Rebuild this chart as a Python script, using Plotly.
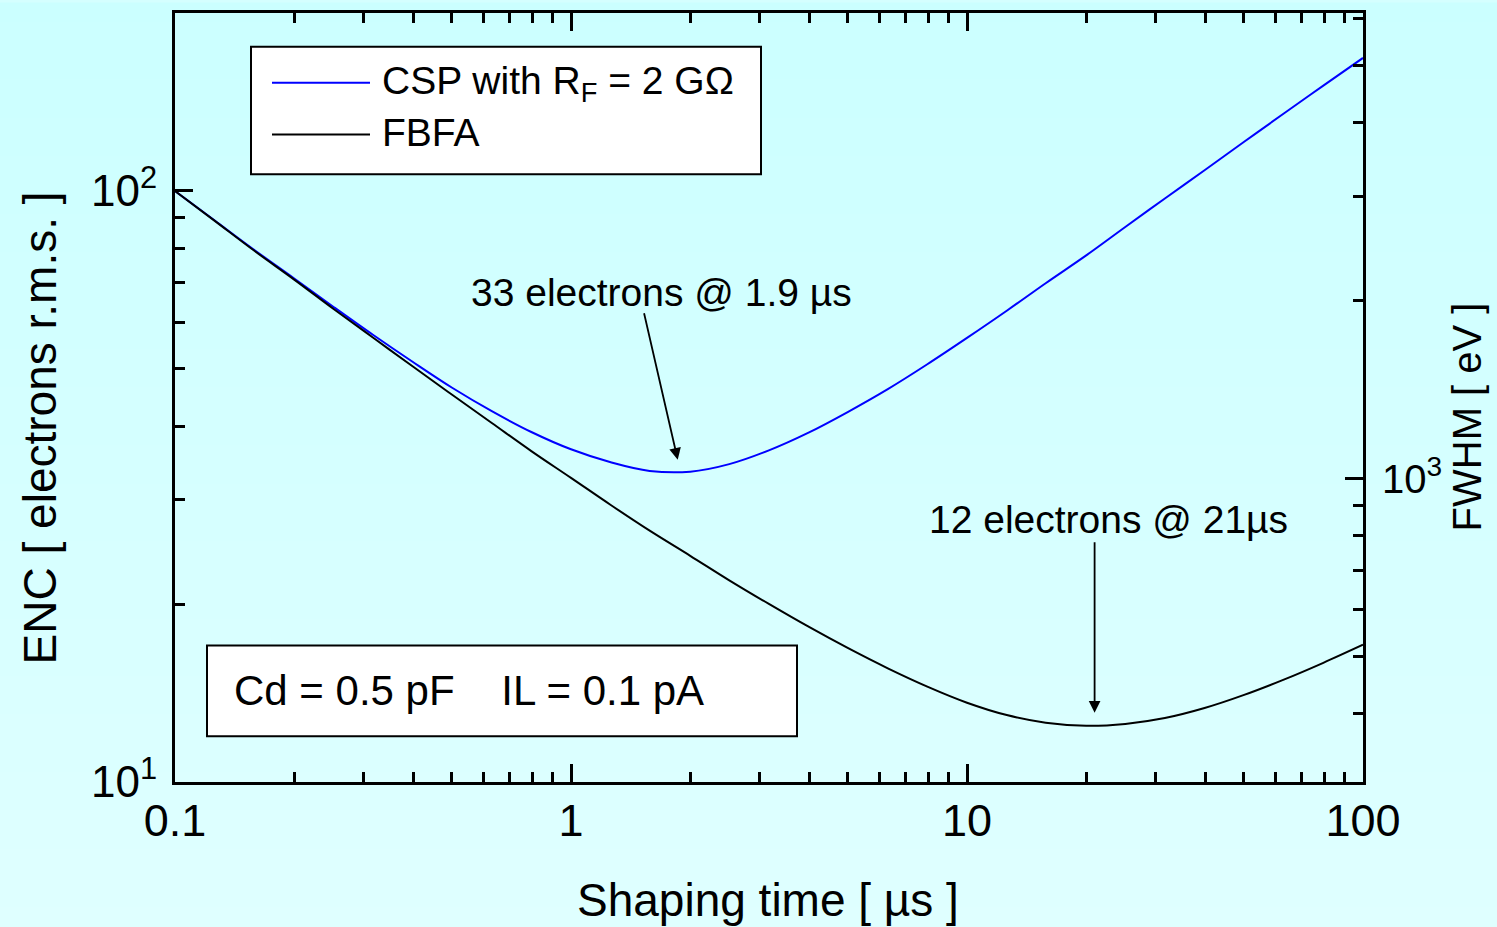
import math
import plotly.graph_objects as go

# ---------------- data ----------------
shaping_time_us = [0.1, 0.126, 0.158, 0.2, 0.251, 0.316, 0.398, 0.501, 0.631, 0.794,
                   1.0, 1.26, 1.58, 2.0, 2.51, 3.16, 3.98, 5.01, 6.31, 7.94,
                   10, 12.6, 15.8, 20, 25.1, 31.6, 39.8, 50.1, 63.1, 79.4, 100]
enc_csp = [100, 89.1, 79.6, 71.1, 63.7, 57.1, 51.4, 46.45, 42.4, 39.1,
           36.55, 34.75, 33.6, 33.5, 34.5, 36.4, 39.0, 42.3, 46.2, 50.9,
           56.4, 62.7, 69.8, 77.8, 86.9, 97.1, 108.4, 121.1, 135.2, 150.7, 167.9]
enc_fbfa = [100, 89.0, 79.35, 70.8, 63.2, 56.5, 50.5, 45.2, 40.5, 36.3,
            32.7, 29.42, 26.62, 24.14, 21.94, 20.01, 18.31, 16.84, 15.57, 14.50,
            13.62, 12.98, 12.60, 12.45, 12.54, 12.83, 13.34, 14.04, 14.90, 15.91, 17.07]

x_major = [0.1, 1, 10, 100]
x_labels = ["0.1", "1", "10", "100"]
x_minor = [m * d for d in (0.1, 1, 10) for m in range(2, 10)]

y_major = [10, 100]
y_labels = ["10<sup>1</sup>", "10<sup>2</sup>"]
y_minor = [m * 10 for m in range(2, 10)]

fwhm_major = [1000]
fwhm_labels = ["10<sup>3</sup>"]
fwhm_minor = [400, 500, 600, 700, 800, 900, 2000, 3000, 4000, 5000, 6000]

FONT = "Liberation Sans, Arial, Helvetica, sans-serif"

# ---------------- geometry helpers (pixel -> paper) ----------------
W, H = 1497, 927
L, R, T, B = 175, 134, 10, 145
PW, PH = W - L - R, H - T - B


def px(xp):
    return (xp - L) / PW


def py(yp):
    return (H - B - yp) / PH


# left ENC axis and right FWHM axis are both log scales, shifted by a constant offset
Y_TOP = math.log10(200)
FWHM_OFFSET = 3 - (2 - 289 / 594)

fig = go.Figure()
fig.add_trace(go.Scatter(x=shaping_time_us, y=enc_csp, mode="lines", name="CSP with R<sub>F</sub> = 2 GΩ",
                         line=dict(color="#0000ff", width=2, shape="spline", smoothing=1.0)))
fig.add_trace(go.Scatter(x=shaping_time_us, y=enc_fbfa, mode="lines", name="FBFA",
                         line=dict(color="black", width=2, shape="spline", smoothing=1.0)))
# empty trace to anchor the right-hand FWHM axis
fig.add_trace(go.Scatter(x=[], y=[], yaxis="y2", showlegend=False, hoverinfo="skip"))

shapes = []
# vertical background gradient
n_bands = 48
for i in range(n_bands):
    y0p = H * i / n_bands
    y1p = H * (i + 1) / n_bands
    f = (i + 0.5) / n_bands
    r = int(round(203 + (223 - 203) * f))
    shapes.append(dict(type="rect", xref="paper", yref="paper", layer="below",
                       x0=px(-5), x1=px(W + 5), y0=py(y1p + 0.5), y1=py(y0p - 0.5),
                       line=dict(width=0), fillcolor=f"rgb({r},255,255)"))

# legend box
shapes.append(dict(type="rect", xref="paper", yref="paper", x0=px(251), x1=px(761), y0=py(172), y1=py(44),
                   line=dict(color="black", width=2), fillcolor="white"))
shapes.append(dict(type="line", xref="paper", yref="paper", x0=px(272), x1=px(370), y0=py(80), y1=py(80),
                   line=dict(color="#0000ff", width=2)))
shapes.append(dict(type="line", xref="paper", yref="paper", x0=px(272), x1=px(370), y0=py(132), y1=py(132),
                   line=dict(color="black", width=2)))
# parameter box
shapes.append(dict(type="rect", xref="paper", yref="paper", x0=px(207), x1=px(797), y0=py(736), y1=py(645),
                   line=dict(color="black", width=2), fillcolor="white"))

annotations = [
    dict(xref="paper", yref="paper", x=px(380), y=py(81), xanchor="left", yanchor="middle",
         text="CSP with R<sub>F</sub> = 2 GΩ", showarrow=False, font=dict(family=FONT, size=39, color="black")),
    dict(xref="paper", yref="paper", x=px(380), y=py(130), xanchor="left", yanchor="middle",
         text="FBFA", showarrow=False, font=dict(family=FONT, size=39, color="black")),
    dict(xref="paper", yref="paper", x=px(232), y=py(690), xanchor="left", yanchor="middle",
         text="Cd = 0.5 pF&nbsp;&nbsp;&nbsp;&nbsp;IL = 0.1 pA", showarrow=False,
         font=dict(family=FONT, size=42, color="black")),
    # minimum annotations
    dict(xref="paper", yref="paper", x=px(661), y=py(291), xanchor="center", yanchor="middle",
         text="33 electrons @ 1.9 µs", showarrow=False, font=dict(family=FONT, size=39, color="black")),
    dict(x=math.log10(1.86), y=math.log10(35.1), xref="x", yref="y", text="", showarrow=True,
         ax=-34, ay=-148, arrowhead=2, arrowsize=1.3, arrowwidth=1.8, arrowcolor="black"),
    dict(xref="paper", yref="paper", x=px(1108), y=py(518), xanchor="center", yanchor="middle",
         text="12 electrons @ 21µs", showarrow=False, font=dict(family=FONT, size=39, color="black")),
    dict(x=math.log10(21), y=math.log10(13.1), xref="x", yref="y", text="", showarrow=True,
         ax=0, ay=-172, arrowhead=2, arrowsize=1.3, arrowwidth=1.8, arrowcolor="black"),
    # axis titles
    dict(xref="paper", yref="paper", x=px(768), y=py(900), xanchor="center", yanchor="middle",
         text="Shaping time [ µs ]", showarrow=False, font=dict(family=FONT, size=46, color="black")),
    dict(xref="paper", yref="paper", x=px(40), y=py(427), xanchor="center", yanchor="middle", textangle=-90,
         text="ENC [ electrons r.m.s. ]", showarrow=False, font=dict(family=FONT, size=46, color="black")),
    dict(xref="paper", yref="paper", x=px(1467), y=py(416), xanchor="center", yanchor="middle", textangle=-90,
         text="FWHM [ eV ]", showarrow=False, font=dict(family=FONT, size=40, color="black")),
]

tick_common = dict(showline=True, linecolor="black", linewidth=3, ticks="inside", ticklen=18, tickwidth=2.5,
                   tickcolor="black", showgrid=False, zeroline=False, tickmode="array")
minor_common = dict(ticks="inside", ticklen=10, tickwidth=2.5, tickcolor="black", showgrid=False, tickmode="array")

fig.update_layout(
    width=W, height=H,
    margin=dict(l=L, r=R, t=T, b=B, pad=0),
    paper_bgcolor="rgb(213,255,255)",
    plot_bgcolor="rgba(0,0,0,0)",
    showlegend=False,
    font=dict(family=FONT, color="black"),
    xaxis=dict(type="log", range=[-1, 2], mirror="ticks", tickvals=x_major, ticktext=x_labels,
               minor=dict(tickvals=x_minor, **minor_common), ticklabelstandoff=-3,
               tickfont=dict(family=FONT, size=45, color="black"), **tick_common),
    yaxis=dict(type="log", range=[1, Y_TOP], mirror=False, tickvals=y_major, ticktext=y_labels,
               minor=dict(tickvals=y_minor, **minor_common), ticklabelstandoff=6,
               tickfont=dict(family=FONT, size=44, color="black"), **tick_common),
    yaxis2=dict(type="log", overlaying="y", side="right", anchor="x",
                range=[1 + FWHM_OFFSET, Y_TOP + FWHM_OFFSET],
                tickvals=fwhm_major, ticktext=fwhm_labels,
                minor=dict(tickvals=fwhm_minor, **minor_common), ticklabelstandoff=8,
                tickfont=dict(family=FONT, size=40, color="black"), **tick_common),
    shapes=shapes,
    annotations=annotations,
)

fig.write_html("out.html", config={"displayModeBar": False},
               post_script="document.body.style.margin='0px';document.body.style.overflow='hidden';")
